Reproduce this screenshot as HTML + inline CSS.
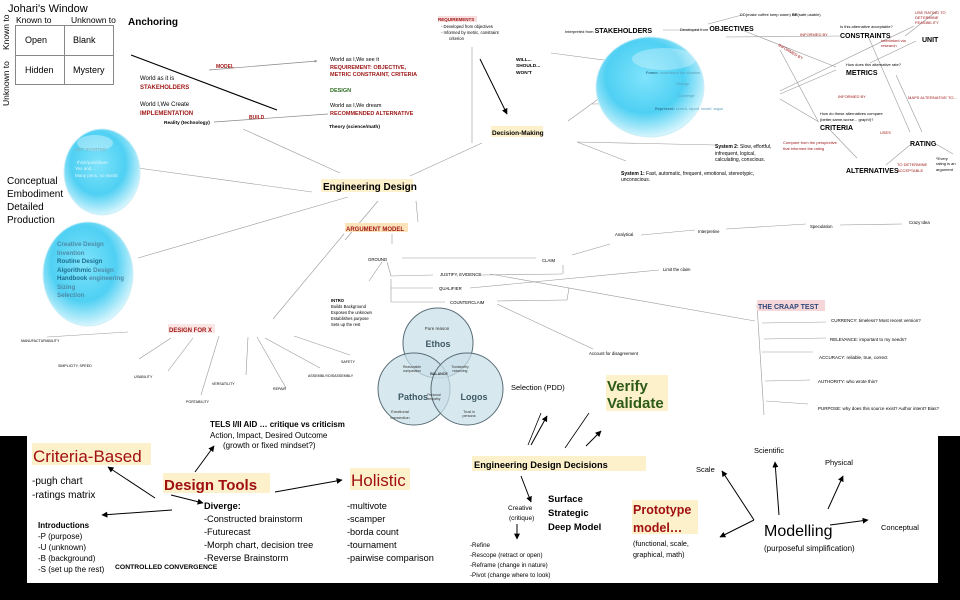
<!DOCTYPE html>
<html><head><meta charset="utf-8"><style>
html,body{margin:0;padding:0;background:#fff;width:960px;height:600px;overflow:hidden}
svg{display:block}
text{font-family:"Liberation Sans",Arial,sans-serif}
</style></head><body>
<svg width="960" height="600" viewBox="0 0 960 600" xmlns="http://www.w3.org/2000/svg">
<defs>
<radialGradient id="bub" cx="45%" cy="40%" r="60%">
<stop offset="0" stop-color="#7fe3fb"/><stop offset="0.6" stop-color="#4fd0f3"/><stop offset="1" stop-color="#d6f5fd"/>
</radialGradient>
<marker id="ar" viewBox="0 0 10 10" refX="9" refY="5" markerWidth="6" markerHeight="6" orient="auto"><path d="M0,0L10,5L0,10z" fill="#000"/></marker>
<marker id="ag" viewBox="0 0 10 10" refX="9" refY="5" markerWidth="4" markerHeight="4" orient="auto"><path d="M0,0L10,5L0,10z" fill="#888"/></marker>
</defs>

<!-- Johari -->
<text x="8" y="12" font-size="11">Johari's Window</text>
<text x="16" y="23" font-size="8.5">Known to</text>
<text x="71" y="23" font-size="8.5">Unknown to</text>
<rect x="15.5" y="25.5" width="98" height="59" fill="none" stroke="#888"/>
<line x1="64.5" y1="25" x2="64.5" y2="85" stroke="#888"/>
<line x1="15" y1="55.5" x2="114" y2="55.5" stroke="#888"/>
<text x="25" y="43" font-size="9">Open</text><text x="73" y="43" font-size="9">Blank</text>
<text x="25" y="73" font-size="9">Hidden</text><text x="73" y="73" font-size="9">Mystery</text>
<text transform="translate(9,50) rotate(-90)" font-size="8.5">Known to</text>
<text transform="translate(9,106) rotate(-90)" font-size="8.5">Unknown to</text>

<text x="128" y="25" font-size="10" font-weight="bold">Anchoring</text>
<line x1="131" y1="55" x2="277" y2="110" stroke="#000" stroke-width="1.2"/>
<line x1="209" y1="70" x2="317" y2="61" stroke="#888" stroke-width="0.7" marker-end="url(#ag)"/>
<text x="216" y="68" font-size="5" fill="#a01818" font-weight="bold">MODEL</text>
<line x1="214" y1="122" x2="328" y2="114" stroke="#888" stroke-width="0.7"/>
<text x="249" y="119" font-size="5" fill="#a01818" font-weight="bold">BUILD</text>
<g font-size="5.5"><text x="330" y="61">World as I,We see it</text>
<text x="330" y="69" fill="#a01818" font-weight="bold">REQUIREMENT: OBJECTIVE,</text>
<text x="330" y="76" fill="#a01818" font-weight="bold">METRIC CONSTRAINT, CRITERIA</text>
<text x="330" y="92" fill="#2e6b20" font-weight="bold">DESIGN</text>
<text x="330" y="107">World as I,We dream</text>
<text x="330" y="115" fill="#a01818" font-weight="bold">RECOMMENDED ALTERNATIVE</text>
<text x="329" y="128" font-size="4.8" font-weight="bold">Theory (science/math)</text></g>
<g font-size="6"><text x="140" y="80">World as it is</text>
<text x="140" y="89" fill="#a01818" font-weight="bold">STAKEHOLDERS</text>
<text x="140" y="106">World I,We Create</text>
<text x="140" y="115" fill="#a01818" font-weight="bold">IMPLEMENTATION</text>
<text x="164" y="124" font-size="4.8" font-weight="bold">Reality (technology)</text></g>

<!-- grey lines from Engineering Design -->
<g stroke="#999" stroke-width="0.6" fill="none">
<line x1="243" y1="129" x2="340" y2="173"/>
<line x1="138" y1="168" x2="312" y2="192"/>
<line x1="138" y1="258" x2="348" y2="197"/>
<line x1="410" y1="176" x2="482" y2="143"/>
<line x1="472" y1="47" x2="472" y2="143"/>
<line x1="378" y1="201" x2="345" y2="240"/>
<line x1="416" y1="201" x2="418" y2="222"/>
<line x1="344" y1="234" x2="273" y2="319"/>
<line x1="392" y1="234" x2="392" y2="244"/>
<!-- decision making lines -->
<line x1="551" y1="53" x2="656" y2="67"/>
<line x1="568" y1="121" x2="638" y2="70"/>
<line x1="620" y1="83" x2="662" y2="83"/>
<line x1="612" y1="93" x2="664" y2="92"/>
<line x1="592" y1="104" x2="660" y2="103"/>
<line x1="577" y1="142" x2="716" y2="145"/>
<line x1="577" y1="142" x2="626" y2="161"/>
<!-- objectives cluster -->
<line x1="663" y1="30" x2="700" y2="30"/>
<line x1="708" y1="24" x2="742" y2="15"/>
<line x1="742" y1="30" x2="836" y2="67"/>
<line x1="726" y1="37" x2="840" y2="36"/>
<line x1="780" y1="50" x2="818" y2="121"/>
<line x1="780" y1="91" x2="914" y2="26"/>
<line x1="780" y1="94" x2="836" y2="70"/>
<line x1="780" y1="99" x2="819" y2="122"/>
<line x1="870" y1="63" x2="916" y2="41"/>
<line x1="905" y1="36" x2="937" y2="11"/>
<line x1="868" y1="36" x2="910" y2="132"/>
<line x1="896" y1="75" x2="922" y2="132"/>
<line x1="910" y1="145" x2="886" y2="165"/>
<line x1="936" y1="144" x2="953" y2="154"/>
<line x1="830" y1="130" x2="857" y2="158"/>
<!-- argument -->
<line x1="382" y1="262" x2="369" y2="281"/>
<line x1="387" y1="262" x2="391" y2="276"/>
<line x1="391" y1="276" x2="433" y2="275"/>
<line x1="391" y1="279" x2="391" y2="302"/>
<line x1="391" y1="288" x2="433" y2="288"/>
<line x1="391" y1="302" x2="445" y2="302"/>
<line x1="402" y1="258" x2="536" y2="258"/>
<line x1="572" y1="255" x2="610" y2="244"/>
<line x1="641" y1="235" x2="695" y2="230"/>
<line x1="726" y1="229" x2="806" y2="224"/>
<line x1="840" y1="225" x2="902" y2="224"/>
<line x1="480" y1="275" x2="562" y2="274"/>
<line x1="563" y1="265" x2="563" y2="274"/>
<line x1="470" y1="288" x2="659" y2="270"/>
<line x1="497" y1="301" x2="567" y2="300"/>
<line x1="567" y1="300" x2="569" y2="288"/>
<line x1="490" y1="274" x2="755" y2="321"/>
<line x1="497" y1="304" x2="593" y2="349"/>
<!-- CRAAP -->
<line x1="757" y1="305" x2="764" y2="415"/>
<line x1="762" y1="323" x2="826" y2="322"/>
<line x1="764" y1="339" x2="826" y2="338"/>
<line x1="762" y1="352" x2="813" y2="352"/>
<line x1="765" y1="381" x2="810" y2="380"/>
<line x1="766" y1="401" x2="808" y2="404"/>
<!-- Design for X -->
<line x1="47" y1="337" x2="128" y2="332"/>
<line x1="171" y1="338" x2="139" y2="359"/>
<line x1="193" y1="338" x2="168" y2="371"/>
<line x1="219" y1="336" x2="201" y2="395"/>
<line x1="248" y1="337" x2="246" y2="375"/>
<line x1="257" y1="337" x2="286" y2="388"/>
<line x1="265" y1="338" x2="320" y2="368"/>
<line x1="294" y1="336" x2="350" y2="355"/>
</g>
<g font-size="4" fill="#a01818">
<text x="800" y="36">INFORMED BY</text>
<text transform="translate(778,46) rotate(30)">INFORMED BY</text>
<text x="838" y="98">INFORMED BY</text>
<text x="881" y="42">Interlinked via</text><text x="881" y="47">research</text>
<text x="915" y="14">USE RATING TO</text><text x="915" y="19">DETERMINE</text><text x="915" y="24">FEASIBILITY</text>
<text x="908" y="99">MAPS ALTERNATIVE TO...</text>
<text x="880" y="134">USES</text>
<text x="783" y="144">Compare from the perspective</text><text x="783" y="150">that informed the rating</text>
<text x="897" y="166">TO DETERMINE</text><text x="897" y="172">ACCEPTABLE</text>
</g>

<!-- bubbles -->
<ellipse cx="102" cy="172" rx="38" ry="43" fill="url(#bub)" stroke="#cdeff8"/>
<ellipse cx="95" cy="143" rx="18" ry="8" fill="#fff" opacity="0.35"/>
<g font-size="4.5" fill="#e0f6fb"><text x="75" y="151" font-weight="bold" fill="#7cb8c8">GET STARTED</text>
<text x="77" y="164">think/pair/share</text><text x="75" y="170">Yes and...</text><text x="75" y="177">Many pens, no words</text></g>
<ellipse cx="88" cy="274" rx="45" ry="52" fill="url(#bub)" stroke="#cdeff8"/>
<g font-size="6.2" font-weight="bold" fill="#4d8aa6">
<text x="57" y="246">Creative Design</text><text x="57" y="255">Invention</text>
<text x="57" y="263" fill="#1d6d8e">Routine Design</text>
<text x="57" y="272"><tspan fill="#1d6d8e">Algorithmic</tspan> Design</text>
<text x="57" y="280"><tspan fill="#1d6d8e">Handbook</tspan> engineering</text>
<text x="57" y="289">Sizing</text><text x="57" y="297">Selection</text></g>
<g font-size="10"><text x="7" y="184">Conceptual</text><text x="7" y="197">Embodiment</text><text x="7" y="210">Detailed</text><text x="7" y="223">Production</text></g>

<ellipse cx="650" cy="87" rx="54" ry="50" fill="url(#bub)" stroke="#cdeff8"/>
<ellipse cx="664" cy="59" rx="32" ry="11" fill="#fff" opacity="0.3"/>
<g font-size="3.8" fill="#5a9fbb"><text x="646" y="74"><tspan font-weight="bold" fill="#357c9a">Frame:</tspan> understand the situation</text>
<text x="676" y="85">Diverge</text><text x="678" y="97">Converge</text>
<text x="655" y="110"><tspan font-weight="bold" fill="#357c9a">Represent:</tspan> sketch, report, model, argue</text></g>

<!-- Engineering design label -->
<rect x="321" y="179" width="92" height="13" fill="#fdf1cc"/>
<text x="323" y="190" font-size="10" font-weight="bold">Engineering Design</text>
<rect x="345" y="223" width="63" height="9" fill="#fde3b8"/>
<text x="346" y="231" font-size="6" font-weight="bold" fill="#a01818">ARGUMENT MODEL</text>

<!-- requirements / decision -->
<rect x="438" y="16" width="39" height="6" fill="#f8dede"/>
<text x="438" y="21" font-size="4.5" font-weight="bold" fill="#a01818">REQUIREMENTS</text>
<g font-size="4.2"><text x="441" y="28">-   Developed from objectives</text><text x="441" y="34">-   Informed by metric, constraint</text><text x="449" y="40">criterion</text></g>
<line x1="480" y1="59" x2="507" y2="114" stroke="#000" stroke-width="1" marker-end="url(#ar)"/>
<g font-size="4.8" font-weight="bold"><text x="516" y="61">WILL...</text><text x="516" y="67">SHOULD...</text><text x="516" y="74">WON'T</text></g>
<rect x="491" y="126" width="52" height="11" fill="#fdf1cc"/>
<text x="492" y="135" font-size="6.5" font-weight="bold">Decision-Making</text>

<g font-size="4"><text x="565" y="33">Interpreted from <tspan font-size="7" font-weight="bold">STAKEHOLDERS</tspan></text>
<text x="680" y="31">Developed from <tspan font-size="7" font-weight="bold">OBJECTIVES</tspan></text>
<text x="740" y="16">DD(make coffee keep warm)   <tspan font-weight="bold">BE</tspan>(safe,usable)</text>
<text x="840" y="28">Is this alternative acceptable?</text>
<text x="840" y="38" font-size="7" font-weight="bold">CONSTRAINTS</text>
<text x="922" y="42" font-size="7" font-weight="bold">UNIT</text>
<text x="846" y="66">How does this alternative rate?</text>
<text x="846" y="75" font-size="7" font-weight="bold">METRICS</text>
<text x="820" y="115">How do these alternatives compare</text>
<text x="820" y="121">(better,same,worse... graph!)?</text>
<text x="820" y="130" font-size="7" font-weight="bold">CRITERIA</text>
<text x="910" y="146" font-size="7" font-weight="bold">RATING</text>
<text x="846" y="173" font-size="7" font-weight="bold">ALTERNATIVES</text>
<text x="936" y="160">*Every</text><text x="936" y="165">rating is an</text><text x="936" y="171">argument</text></g>
<g font-size="5"><text x="715" y="148"><tspan font-weight="bold">System 2:</tspan> Slow, effortful,</text>
<text x="715" y="155">infrequent, logical,</text><text x="715" y="161">calculating, conscious.</text>
<text x="621" y="175"><tspan font-weight="bold">System 1:</tspan> Fast, automatic, frequent, emotional, stereotypic,</text>
<text x="621" y="181">unconscious.</text></g>

<!-- argument labels -->
<g font-size="4.3"><text x="368" y="261">GROUND</text><text x="542" y="262">CLAIM</text>
<text x="440" y="276">JUSTIFY, EVIDENCE</text><text x="439" y="290">QUALIFIER</text><text x="450" y="304">COUNTERCLAIM</text>
<text x="663" y="271">Limit the claim</text><text x="589" y="355">Account for disagreement</text>
<text x="615" y="236">Analytical</text><text x="698" y="233">Interpretive</text><text x="810" y="228">Speculation</text><text x="909" y="224">Crazy Idea</text></g>
<g font-size="4.2"><text x="331" y="302" font-weight="bold">INTRO</text><text x="331" y="308">Builds Background</text>
<text x="331" y="314">Exposes the unknown</text><text x="331" y="320">Establishes purpose</text><text x="331" y="326">Sets up the rest</text></g>

<rect x="757" y="300" width="68" height="11" fill="#f7d6d9"/>
<text x="758" y="309" font-size="7" font-weight="bold" fill="#2e4a7a">THE CRAAP TEST</text>
<g font-size="4.5"><text x="831" y="322">CURRENCY: timeless? Most recent version?</text>
<text x="830" y="341">RELEVANCE: important to my needs?</text>
<text x="819" y="359">ACCURACY: reliable, true, correct</text>
<text x="818" y="383">AUTHORITY: who wrote this?</text>
<text x="818" y="410">PURPOSE: why does this source exist? Author intent? Bias?</text></g>

<!-- Venn -->
<g stroke="#5a6e78" stroke-width="1" fill="#c9e0e8" fill-opacity="0.75">
<circle cx="438" cy="343" r="35"/><circle cx="414" cy="389" r="36"/><circle cx="467" cy="389" r="36"/></g>
<g text-anchor="middle" fill="#333"><text x="437" y="330" font-size="4.5">Pure reason</text>
<text x="438" y="347" font-size="9" font-weight="bold" fill="#3e5a66">Ethos</text>
<text x="413" y="400" font-size="9" font-weight="bold" fill="#3e5a66">Pathos</text>
<text x="474" y="400" font-size="9" font-weight="bold" fill="#3e5a66">Logos</text>
<text x="439" y="375" font-size="3.6" font-weight="bold">BALANCE</text>
<text x="412" y="368" font-size="3.4">Reasonable</text><text x="412" y="372" font-size="3.4">compassion</text>
<text x="460" y="368" font-size="3.4">Trustworthy</text><text x="460" y="372" font-size="3.4">reasoning</text>
<text x="434" y="396" font-size="3.4">Personal</text><text x="434" y="400" font-size="3.4">empathy</text>
<text x="400" y="413" font-size="4">Emotional</text><text x="400" y="419" font-size="4">connection</text>
<text x="469" y="413" font-size="3.6">Trust in</text><text x="469" y="417" font-size="3.6">persona</text></g>

<!-- Design for X -->
<rect x="168" y="324" width="47" height="9" fill="#fbe6e6"/>
<text x="169" y="332" font-size="6" font-weight="bold" fill="#a01818">DESIGN FOR X</text>
<g font-size="3.6"><text x="21" y="342">MANUFACTURABILITY</text><text x="58" y="367">SIMPLICITY, SPEED</text>
<text x="134" y="378">USABILITY</text><text x="212" y="385">VERSATILITY</text><text x="186" y="403">PORTABILITY</text>
<text x="273" y="390">REPAIR</text><text x="308" y="377">ASSEMBLY/DISASSEMBLY</text><text x="341" y="363">SAFETY</text></g>

<text x="511" y="390" font-size="7.5">Selection (PDD)</text>
<rect x="606" y="375" width="62" height="36" fill="#fdf1cc"/>
<text x="607" y="391" font-size="15" font-weight="bold" fill="#2e5a18">Verify</text>
<text x="607" y="408" font-size="15" font-weight="bold" fill="#2e5a18">Validate</text>

<!-- black frame bottom -->
<rect x="0" y="436" width="27" height="164" fill="#000"/>
<rect x="938" y="436" width="22" height="164" fill="#000"/>
<rect x="0" y="583" width="960" height="17" fill="#000"/>

<text x="210" y="427" font-size="8" font-weight="bold">TELS I/II AID … critique vs criticism</text>
<text x="210" y="438" font-size="8">Action, Impact, Desired Outcome</text>
<text x="223" y="448" font-size="8">(growth or fixed mindset?)</text>
<line x1="195" y1="472" x2="214" y2="446" stroke="#000" marker-end="url(#ar)"/>

<rect x="32" y="443" width="119" height="22" fill="#fdf1cc"/>
<text x="33" y="462" font-size="17" fill="#a01010">Criteria-Based</text>
<g font-size="10"><text x="32" y="484">-pugh chart</text><text x="32" y="498">-ratings matrix</text></g>
<rect x="163" y="473" width="107" height="20" fill="#fdf1cc"/>
<text x="164" y="490" font-size="15" font-weight="bold" fill="#a01010">Design Tools</text>
<line x1="155" y1="498" x2="108" y2="467" stroke="#000" marker-end="url(#ar)"/>
<line x1="172" y1="510" x2="102" y2="515" stroke="#000" marker-end="url(#ar)"/>
<line x1="171" y1="495" x2="203" y2="503" stroke="#000" marker-end="url(#ar)"/>
<line x1="275" y1="492" x2="342" y2="480" stroke="#000" marker-end="url(#ar)"/>
<rect x="350" y="468" width="60" height="22" fill="#fdf1cc"/>
<text x="351" y="486" font-size="17" fill="#a01010">Holistic</text>
<g font-size="8"><text x="38" y="528" font-weight="bold">Introductions</text><text x="38" y="539">-P (purpose)</text>
<text x="38" y="550">-U (unknown)</text><text x="38" y="561">-B (background)</text><text x="38" y="572">-S (set up the rest)</text>
<text x="115" y="569" font-size="6.8" font-weight="bold">CONTROLLED CONVERGENCE</text></g>
<g font-size="9.2"><text x="204" y="509" font-weight="bold">Diverge:</text><text x="204" y="522">-Constructed brainstorm</text>
<text x="204" y="535">-Futurecast</text><text x="204" y="548">-Morph chart, decision tree</text><text x="204" y="561">-Reverse Brainstorm</text>
<text x="347" y="509">-multivote</text><text x="347" y="522">-scamper</text><text x="347" y="535">-borda count</text>
<text x="347" y="548">-tournament</text><text x="347" y="561">-pairwise comparison</text></g>

<!-- EDD -->
<line x1="528" y1="445" x2="541" y2="413" stroke="#000" stroke-width="0.8"/>
<line x1="531" y1="445" x2="547" y2="416" stroke="#000" marker-end="url(#ar)"/>
<line x1="565" y1="448" x2="589" y2="413" stroke="#000" stroke-width="0.8"/>
<line x1="586" y1="446" x2="601" y2="431" stroke="#000" marker-end="url(#ar)"/>
<rect x="472" y="456" width="174" height="15" fill="#fdf1cc"/>
<text x="474" y="468" font-size="9.3" font-weight="bold">Engineering Design Decisions</text>
<line x1="521" y1="476" x2="531" y2="502" stroke="#000" marker-end="url(#ar)"/>
<g font-size="6.5"><text x="508" y="510">Creative</text><text x="509" y="520">(critique)</text></g>
<line x1="517" y1="524" x2="517" y2="539" stroke="#000" marker-end="url(#ar)"/>
<g font-size="9.5" font-weight="bold"><text x="548" y="502">Surface</text><text x="548" y="516">Strategic</text><text x="548" y="530">Deep Model</text></g>
<g font-size="6.2"><text x="470" y="547">-Refine</text><text x="470" y="557">-Rescope (retract or open)</text>
<text x="470" y="567">-Reframe (change  in nature)</text><text x="470" y="577">-Pivot (change where to look)</text></g>
<rect x="632" y="500" width="66" height="34" fill="#fdf1cc"/>
<text x="633" y="514" font-size="12.5" font-weight="bold" fill="#a01010">Prototype</text>
<text x="633" y="532" font-size="12.5" font-weight="bold" fill="#a01010">model…</text>
<g font-size="7.2"><text x="633" y="546">(functional, scale,</text><text x="633" y="557">graphical, math)</text></g>

<text x="696" y="472" font-size="7.5">Scale</text>
<text x="754" y="453" font-size="7.5">Scientific</text>
<text x="825" y="465" font-size="7.5">Physical</text>
<text x="881" y="530" font-size="7.5">Conceptual</text>
<text x="764" y="536" font-size="16">Modelling</text>
<text x="764" y="551" font-size="8">(purposeful simplification)</text>
<g stroke="#000" stroke-width="1">
<line x1="754" y1="520" x2="722" y2="471" marker-end="url(#ar)"/>
<line x1="779" y1="515" x2="775" y2="462" marker-end="url(#ar)"/>
<line x1="828" y1="509" x2="843" y2="476" marker-end="url(#ar)"/>
<line x1="830" y1="525" x2="868" y2="520" marker-end="url(#ar)"/>
<line x1="754" y1="520" x2="720" y2="537" marker-end="url(#ar)"/>
</g>
</svg>
</body></html>
